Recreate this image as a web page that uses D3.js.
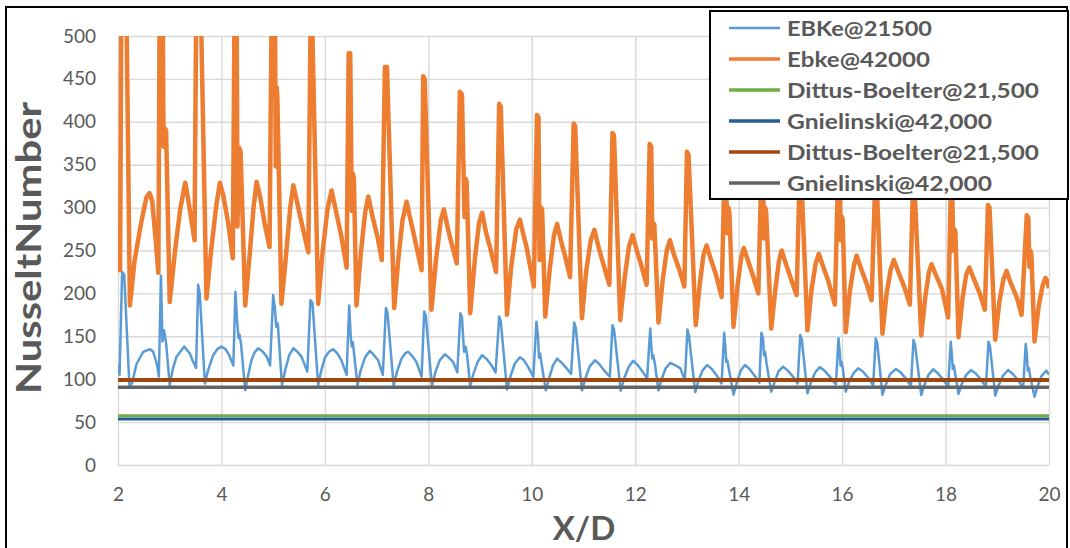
<!DOCTYPE html>
<html>
<head>
<meta charset="utf-8">
<script src="https://cdn.jsdelivr.net/npm/d3@7"></script>
<style>
  body { margin: 0; background: #fff; }
  svg { display: block; font-family: Lato, "Open Sans", sans-serif; }
</style>
</head>
<body>
<div id="chart"></div>
<script>
// EBKe @ Re 21500 as [X/D, Nu]
const ebke21500 = [
  [2.00,116],[2.03,105],[2.08,225],[2.12,222],[2.22,93],[2.27,95],[2.36,118],[2.49,132],[2.62,135],[2.68,132],[2.75,118],[2.79,103],
  [2.83,221],[2.86,144],[2.89,157],[2.93,142],[3.00,93],[3.06,112],[3.13,126],[3.28,138],[3.39,130],[3.44,122],[3.51,113],
  [3.55,210],[3.58,200],[3.68,95],[3.74,110],[3.84,128],[3.92,135],[4.00,138],[4.08,135],[4.15,128],[4.23,116],
  [4.27,202],[4.30,170],[4.33,148],[4.35,152],[4.38,140],[4.46,87],[4.50,100],[4.58,122],[4.64,131],[4.71,136],[4.80,132],[4.88,126],[4.94,116],
  [5.00,198],[5.03,185],[5.06,161],[5.09,165],[5.17,93],[5.23,110],[5.31,128],[5.39,136],[5.47,132],[5.55,126],[5.62,115],[5.66,109],
  [5.72,192],[5.76,189],[5.87,93],[5.93,110],[6.00,125],[6.08,132],[6.16,135],[6.24,130],[6.32,122],[6.42,105],
  [6.47,186],[6.50,150],[6.52,138],[6.54,143],[6.56,132],[6.63,93],[6.69,110],[6.78,126],[6.87,133],[6.95,128],[7.03,122],[7.12,105],
  [7.18,183],[7.21,178],[7.33,92],[7.39,108],[7.48,124],[7.55,130],[7.61,132],[7.69,127],[7.77,120],[7.87,103],
  [7.92,179],[7.95,174],[8.07,92],[8.13,107],[8.22,122],[8.32,129],[8.40,125],[8.48,120],[8.56,108],
  [8.62,177],[8.65,172],[8.69,132],[8.72,138],[8.75,128],[8.81,92],[8.87,106],[8.96,121],[9.04,128],[9.12,124],[9.20,118],[9.30,108],
  [9.37,173],[9.40,168],[9.52,88],[9.58,102],[9.67,118],[9.77,125.5],[9.85,122],[9.93,114],[10.03,103],
  [10.09,167],[10.12,150],[10.14,125],[10.16,130],[10.19,118],[10.27,87],[10.33,100],[10.41,116],[10.49,124],[10.58,119],[10.67,113],[10.76,106],
  [10.82,166],[10.85,160],[10.97,87],[11.03,100],[11.12,115],[11.22,122],[11.30,118],[11.40,110],[11.51,103],
  [11.56,163],[11.59,158],[11.72,86.5],[11.78,100],[11.87,114],[11.96,121.5],[12.04,117],[12.14,109],[12.23,101],
  [12.29,159],[12.31,140],[12.33,124],[12.35,128],[12.38,118],[12.45,87],[12.51,100],[12.59,113],[12.68,119],[12.78,116],[12.87,113],[12.96,99],
  [13.01,158],[13.04,150],[13.16,85],[13.22,98],[13.30,110],[13.39,116.5],[13.48,112],[13.58,104],[13.67,95],
  [13.72,154],[13.74,140],[13.76,120],[13.78,122],[13.81,112],[13.90,82],[13.96,95],[14.04,110],[14.12,116.5],[14.21,112],[14.31,104],[14.40,96],
  [14.44,154],[14.47,148],[14.49,128],[14.51,132],[14.54,118],[14.63,85.5],[14.69,96],[14.77,109],[14.86,114.6],[14.95,110],[15.05,103],[15.14,95],
  [15.19,151.5],[15.22,146],[15.33,83.5],[15.39,95],[15.48,108],[15.57,114],[15.66,110],[15.76,103],[15.88,94],
  [15.93,147.6],[15.95,135],[15.97,116],[15.99,120],[16.02,110],[16.07,85.5],[16.13,96],[16.22,107],[16.31,112.7],[16.40,109],[16.50,102],[16.60,93],
  [16.65,147.6],[16.68,142],[16.78,81.6],[16.84,93],[16.93,106],[17.04,112],[17.13,108],[17.23,101],[17.33,92],
  [17.38,145.7],[17.41,140],[17.53,81.6],[17.59,93],[17.67,105],[17.76,111.5],[17.85,107],[17.95,100],[18.05,91],
  [18.10,143.7],[18.12,130],[18.14,112],[18.16,116],[18.19,105],[18.25,82.8],[18.31,94],[18.40,105],[18.49,110.7],[18.58,107],[18.68,100],[18.78,91],
  [18.83,143.7],[18.86,138],[18.96,80.8],[19.02,92],[19.11,104],[19.21,110.7],[19.30,106],[19.40,99],[19.50,90],
  [19.55,141],[19.57,130],[19.59,110],[19.61,113],[19.64,102],[19.72,79.6],[19.78,92],[19.86,104],[19.95,110],[20.00,105]
];

// Ebke @ Re 42000 (peaks above 500 are cut off by the plot area)
const ebke42000 = [
  [2.00,254],[2.04,227],[2.07,600],[2.15,600],[2.23,186],[2.32,238],[2.45,283],[2.55,312],[2.61,317],[2.66,308],[2.73,262],[2.78,224],
  [2.81,600],[2.86,600],[2.88,371],[2.90,393],[2.93,390],[3.00,190],[3.10,248],[3.20,297],[3.30,329],[3.35,312],[3.40,293],[3.48,262],
  [3.52,600],[3.58,600],[3.71,194],[3.80,250],[3.90,302],[3.97,329],[4.04,313],[4.13,282],[4.22,241],
  [4.26,600],[4.29,600],[4.31,278],[4.34,370],[4.37,365],[4.46,186],[4.55,248],[4.62,300],[4.68,330],[4.75,312],[4.84,280],[4.93,254],
  [4.98,600],[5.03,600],[5.05,348],[5.07,440],[5.08,430],[5.16,188],[5.25,245],[5.33,300],[5.39,326],[5.45,310],[5.55,282],[5.68,248],
  [5.72,500],[5.76,500],[5.87,188],[5.95,245],[6.05,298],[6.13,320],[6.20,300],[6.32,266],[6.42,230],
  [6.46,480],[6.49,480],[6.52,296],[6.54,340],[6.56,335],[6.61,186],[6.70,250],[6.78,295],[6.84,313],[6.92,290],[7.02,265],[7.10,239],
  [7.16,464],[7.20,464],[7.34,183],[7.42,240],[7.50,285],[7.58,307],[7.64,290],[7.70,274],[7.87,227],
  [7.90,453],[7.93,450],[8.06,181],[8.15,240],[8.24,285],[8.30,298],[8.38,275],[8.45,258],[8.55,235],
  [8.61,435],[8.65,432],[8.70,289],[8.72,334],[8.74,330],[8.81,177],[8.90,240],[8.98,282],[9.04,294],[9.12,270],[9.20,252],[9.31,225],
  [9.37,421],[9.40,418],[9.52,175],[9.60,230],[9.70,275],[9.77,286],[9.84,268],[9.90,254],[10.04,208],
  [10.10,408],[10.13,405],[10.15,239],[10.18,300],[10.20,298],[10.26,173],[10.35,230],[10.43,268],[10.49,281],[10.57,260],[10.65,242],[10.74,219],
  [10.81,398],[10.84,395],[10.97,171],[11.05,225],[11.14,262],[11.21,274],[11.30,252],[11.38,235],[11.50,210],
  [11.56,387],[11.59,384],[11.71,169],[11.80,220],[11.88,255],[11.95,268],[12.03,250],[12.12,232],[12.22,210],
  [12.28,374],[12.31,371],[12.33,264],[12.35,282],[12.37,280],[12.45,166],[12.53,215],[12.61,250],[12.67,262],[12.75,245],[12.85,228],[12.95,208],
  [13.00,365],[13.03,362],[13.17,163],[13.25,212],[13.32,245],[13.38,256],[13.46,240],[13.56,222],[13.67,196],
  [13.73,355],[13.75,352],[13.78,270],[13.80,300],[13.82,295],[13.90,161],[13.98,210],[14.05,242],[14.10,253],[14.18,238],[14.28,220],[14.38,200],
  [14.44,345],[14.47,342],[14.49,264],[14.51,300],[14.53,296],[14.63,159],[14.71,205],[14.78,238],[14.83,250],[14.91,235],[15.01,217],[15.12,198],
  [15.18,340],[15.21,337],[15.33,157],[15.41,205],[15.49,235],[15.55,246],[15.63,232],[15.73,215],[15.86,187],
  [15.92,335],[15.95,332],[15.97,262],[15.99,290],[16.01,287],[16.07,155],[16.15,203],[16.23,233],[16.28,244],[16.36,230],[16.47,212],[16.57,192],
  [16.64,330],[16.67,327],[16.78,153],[16.86,200],[16.94,228],[17.00,239],[17.08,226],[17.20,208],[17.31,187],
  [17.37,325],[17.40,322],[17.53,151],[17.61,197],[17.68,225],[17.73,234],[17.81,222],[17.93,205],[18.05,172],
  [18.10,318],[18.13,315],[18.15,250],[18.17,275],[18.19,272],[18.25,149],[18.33,195],[18.40,222],[18.46,230],[18.54,218],[18.66,200],[18.76,181],
  [18.82,303],[18.85,300],[18.96,146],[19.04,190],[19.12,217],[19.18,226],[19.26,212],[19.38,195],[19.47,175],
  [19.57,291],[19.60,288],[19.62,231],[19.64,250],[19.66,245],[19.72,144],[19.80,185],[19.88,210],[19.93,218],[19.97,214],[20.00,206]
];

// correlation lines (constant along X/D)
const correlationNames = ["Dittus-Boelter@21,500", "Gnielinski@42,000", "Dittus-Boelter@21,500", "Gnielinski@42,000"];
const correlationValues = [57.5, 53.6, 99, 90.5];

const xTicks = [2, 4, 6, 8, 10, 12, 14, 16, 18, 20];
const yTicks = [0, 50, 100, 150, 200, 250, 300, 350, 400, 450, 500];

const legendNames = ["EBKe@21500", "Ebke@42000"].concat(correlationNames);
const colors = ["#5B9BD5", "#ED7D31", "#70AD47", "#255E91", "#9E480E", "#636363"];
const widths = [2.5, 4.5, 3, 3, 4, 3.5];
const legendTextWidths = [145, 143, 252, 205, 252, 205];

const w = 1070;
const h = 548;
const plotLeft = 118, plotRight = 1049, plotTop = 36, plotBottom = 465;

const xScale = d3.scaleLinear().domain([2, 20]).range([plotLeft, plotRight]);
const yScale = d3.scaleLinear().domain([0, 500]).range([plotBottom, plotTop]);

const svg = d3.select("#chart")
  .append("svg")
  .attr("width", w)
  .attr("height", h);

svg.append("rect")
  .attr("x", 6).attr("y", 7)
  .attr("width", 1061).attr("height", 560)
  .attr("fill", "#fff")
  .attr("stroke", "#000")
  .attr("stroke-width", 2);

svg.append("clipPath")
  .attr("id", "plot-clip")
  .append("rect")
  .attr("x", plotLeft).attr("y", plotTop)
  .attr("width", plotRight - plotLeft).attr("height", plotBottom - plotTop);

const yAxis = d3.axisLeft(yScale)
  .tickValues(yTicks)
  .tickSize(-(plotRight - plotLeft))
  .tickPadding(22);

const xAxis = d3.axisBottom(xScale)
  .tickValues(xTicks)
  .tickSize(-(plotBottom - plotTop))
  .tickPadding(23);

svg.append("g")
  .attr("transform", `translate(${plotLeft},0)`)
  .call(yAxis)
  .call(g => g.select(".domain").remove());

svg.append("g")
  .attr("transform", `translate(0,${plotBottom})`)
  .call(xAxis)
  .call(g => g.select(".domain").remove());

svg.selectAll(".tick line")
  .attr("stroke", "#D9D9D9")
  .attr("stroke-width", 1.4);

svg.selectAll(".tick text")
  .attr("fill", "#595959")
  .style("font-size", "19px")
  .style("font-family", "Lato, sans-serif");

const line = d3.line()
  .x(d => xScale(d[0]))
  .y(d => yScale(d[1]));

const plot = svg.append("g").attr("clip-path", "url(#plot-clip)");

const allSeries = [ebke21500, ebke42000].concat(
  correlationValues.map(v => [[2, v], [20, v]])
);

allSeries.forEach((data, i) => {
  plot.append("path")
    .datum(data)
    .attr("d", line)
    .attr("fill", "none")
    .attr("stroke", colors[i])
    .attr("stroke-width", widths[i])
    .attr("stroke-linejoin", "round");
});

svg.append("text")
  .attr("text-anchor", "middle")
  .attr("transform", `translate(41, 248) rotate(-90)`)
  .attr("fill", "#595959")
  .attr("textLength", 292)
  .attr("lengthAdjust", "spacingAndGlyphs")
  .style("font-size", "35px")
  .style("font-weight", "bold")
  .text("NusseltNumber");

svg.append("text")
  .attr("text-anchor", "middle")
  .attr("x", 584)
  .attr("y", 540)
  .attr("fill", "#595959")
  .style("font-size", "33px")
  .style("font-weight", "bold")
  .text("X/D");

const legend = svg.append("g").attr("id", "legend");

legend.append("rect")
  .attr("x", 710).attr("y", 11)
  .attr("width", 358).attr("height", 188)
  .attr("fill", "#fff")
  .attr("stroke", "#000")
  .attr("stroke-width", 2);

legendNames.forEach((name, i) => {
  const y = 28 + i * 31;
  legend.append("line")
    .attr("x1", 729).attr("x2", 780)
    .attr("y1", y).attr("y2", y)
    .attr("stroke", colors[i])
    .attr("stroke-width", i === 0 ? 2.5 : 3.5);
  legend.append("text")
    .attr("x", 787)
    .attr("y", y)
    .attr("dy", "0.36em")
    .attr("fill", "#595959")
    .attr("textLength", legendTextWidths[i])
    .attr("lengthAdjust", "spacingAndGlyphs")
    .style("font-size", "21px")
    .style("font-weight", "bold")
    .text(name);
});
</script>
</body>
</html>
